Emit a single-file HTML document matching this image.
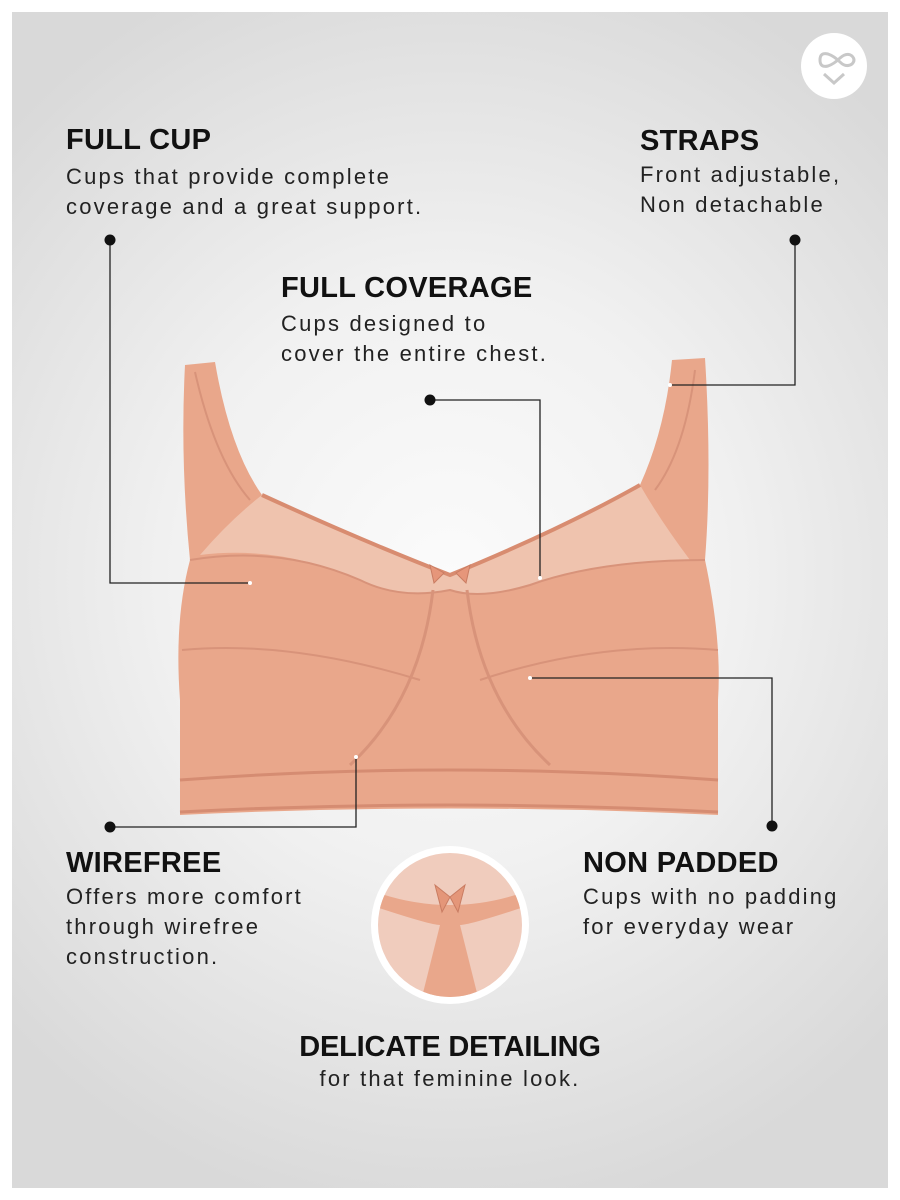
<!DOCTYPE html>
<html><head><meta charset="utf-8"><style>
html,body{margin:0;padding:0;background:#fff}
#c{position:relative;width:900px;height:1200px;overflow:hidden;background:#fff;font-family:"Liberation Sans",sans-serif;color:#111}
#bg{position:absolute;left:12px;top:12px;width:876px;height:1176px;background:radial-gradient(ellipse 70% 55% at 50% 48%,#fbfbfb 0%,#f1f1f1 45%,#d9d9d9 100%)}
.h{position:absolute;font-weight:bold;font-size:29px;letter-spacing:0.3px;white-space:nowrap}
.t{position:absolute;font-size:22px;line-height:30px;letter-spacing:2.2px;white-space:nowrap;color:#222}
svg{position:absolute;left:0;top:0}
</style></head><body><div id="c">
<div id="bg"></div>
<svg width="900" height="1200" viewBox="0 0 900 1200">
<defs>
<clipPath id="cc"><circle cx="450" cy="925" r="72"/></clipPath>
</defs>
<circle cx="834" cy="66" r="33" fill="#fff"/>
<path d="M820,60 q0,-8 8,-6 q6,2 12,8 q6,6 12,2 q4,-4 0,-8 q-5,-4 -12,2 q-6,6 -12,8 q-8,2 -8,-6" fill="none" stroke="#c8c8c8" stroke-width="3"/>
<path d="M824,74 l10,9 l10,-9" fill="none" stroke="#c8c8c8" stroke-width="3"/>
<path d="M185,365 L215,362 Q230,450 262,495 Q360,540 450,575 Q560,530 640,485 Q665,430 672,360 L705,358 Q712,470 705,560 Q722,640 718,700 L718,815 Q450,802 180,815 L180,700 Q174,620 190,560 Q180,460 185,365 Z" fill="#e9a78b"/>
<path d="M262,495 Q360,540 450,575 Q560,530 640,485 Q660,520 690,560 Q600,560 530,585 Q480,600 450,590 Q400,600 360,580 Q280,545 200,555 Q230,520 262,495 Z" fill="#efc3ae"/>
<path d="M190,560 Q280,545 360,580 Q400,600 450,590 Q480,600 530,585 Q600,560 705,560" fill="none" stroke="#d8937a" stroke-width="2"/>
<path d="M262,495 Q360,540 450,575 Q560,530 640,485" fill="none" stroke="#d88c70" stroke-width="4"/>
<path d="M433,590 Q420,700 350,765 M467,590 Q480,700 550,765" fill="none" stroke="#d8937a" stroke-width="3"/>
<path d="M182,650 Q290,640 420,680 M718,650 Q600,640 480,680" fill="none" stroke="#d8937a" stroke-width="2"/>
<path d="M180,780 Q450,760 718,780" fill="none" stroke="#d58c72" stroke-width="3"/>
<path d="M180,812 Q450,798 718,812" fill="none" stroke="#d58c72" stroke-width="3"/>
<path d="M195,372 Q215,460 250,500 M695,370 Q685,450 655,490" fill="none" stroke="#d8937a" stroke-width="2"/>
<path d="M430,565 l14,8 l-10,10 z M470,565 l-14,8 l10,10 z" fill="#e6967a" stroke="#c97c62" stroke-width="1"/>
<circle cx="450" cy="925" r="79" fill="#fff"/>
<g clip-path="url(#cc)">
<rect x="370" y="845" width="160" height="160" fill="#f0ccbd"/>
<path d="M370,890 Q450,920 530,890 L530,905 Q470,925 460,925 L480,1005 L420,1005 L440,925 Q430,925 370,905 Z" fill="#e9a78b"/>
<path d="M435,885 l15,12 l-8,15 z M465,885 l-15,12 l8,15 z" fill="#e49679" stroke="#c97c62"/>
</g>
<g stroke="#222" stroke-width="1.3" fill="none">
<path d="M110,240 V583 H250"/>
<path d="M795,240 V385 H670"/>
<path d="M430,400 H540 V578"/>
<path d="M530,678 H772 V826"/>
<path d="M110,827 H356 V757"/>
</g>
<g fill="#111">
<circle cx="110" cy="240" r="5.5"/><circle cx="795" cy="240" r="5.5"/><circle cx="430" cy="400" r="5.5"/>
<circle cx="772" cy="826" r="5.5"/><circle cx="110" cy="827" r="5.5"/>
</g>
<g fill="#fff"><circle cx="250" cy="583" r="2"/><circle cx="670" cy="385" r="2"/><circle cx="540" cy="578" r="2"/><circle cx="530" cy="678" r="2"/><circle cx="356" cy="757" r="2"/></g>
</svg>
<div class="h" style="left:66px;top:124px">FULL CUP</div>
<div class="t" style="left:66px;top:162px">Cups that provide complete<br>coverage and a great support.</div>
<div class="h" style="left:640px;top:125px">STRAPS</div>
<div class="t" style="left:640px;top:160px">Front adjustable,<br>Non detachable</div>
<div class="h" style="left:281px;top:272px">FULL COVERAGE</div>
<div class="t" style="left:281px;top:309px">Cups designed to<br>cover the entire chest.</div>
<div class="h" style="left:66px;top:847px">WIREFREE</div>
<div class="t" style="left:66px;top:882px">Offers more comfort<br>through wirefree<br>construction.</div>
<div class="h" style="left:583px;top:847px">NON PADDED</div>
<div class="t" style="left:583px;top:882px">Cups with no padding<br>for everyday wear</div>
<div class="h" style="left:0;width:900px;text-align:center;top:1031px;letter-spacing:-0.2px">DELICATE DETAILING</div>
<div class="t" style="left:0;width:900px;text-align:center;top:1064px">for that feminine look.</div>
</div></body></html>
